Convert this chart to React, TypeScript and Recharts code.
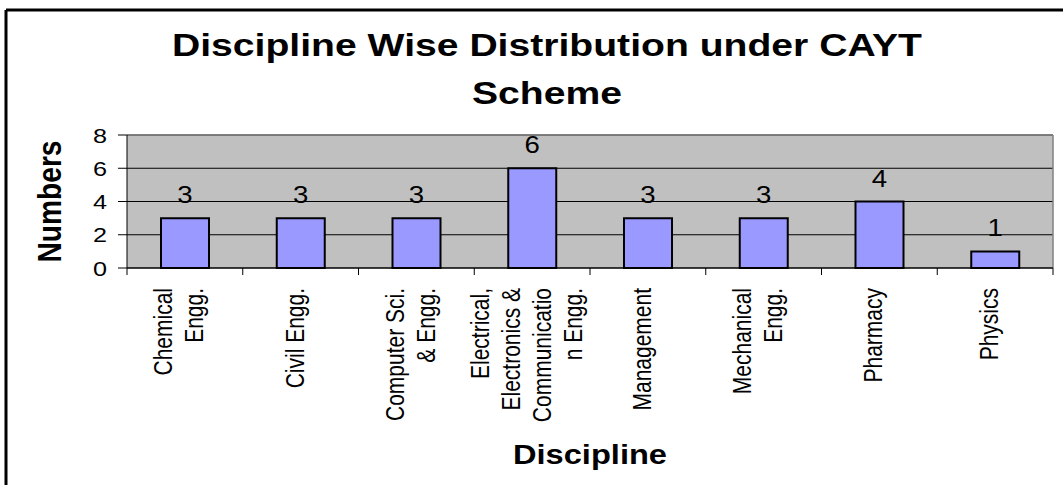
import { Bar, BarChart, CartesianGrid, LabelList, XAxis, YAxis } from 'recharts';

const categories = [
  'Chemical Engg.',
  'Civil Engg.',
  'Computer Sci. & Engg.',
  'Electrical, Electronics & Communication Engg.',
  'Management',
  'Mechanical Engg.',
  'Pharmacy',
  'Physics',
];
const counts = [3, 3, 3, 6, 3, 3, 4, 1];
const tickLabels = [
  ['Chemical', 'Engg.'],
  ['Civil Engg.'],
  ['Computer Sci.', '& Engg.'],
  ['Electrical,', 'Electronics &', 'Communicatio', 'n Engg.'],
  ['Management'],
  ['Mechanical', 'Engg.'],
  ['Pharmacy'],
  ['Physics'],
];
const yTicks = [0, 2, 4, 6, 8];

const data = categories.map((name, i) => ({ name, value: counts[i] }));

const W = 1063;
const H = 485;
const PLOT_LEFT = 127;
const PLOT_RIGHT = 1053;
const PLOT_TOP = 135;
const PLOT_BOTTOM = 268;
const BAND = (PLOT_RIGHT - PLOT_LEFT) / categories.length;
const FONT = '"Liberation Sans", Arial, sans-serif';
// the source picture is stretched sideways a little
const STRETCH = 1.2;

function CategoryTick(props: any) {
  const { x, index } = props;
  const lines = tickLabels[index] || [];
  const n = lines.length;
  return (
    <g>
      <line x1={x - BAND / 2} x2={x - BAND / 2} y1={PLOT_BOTTOM} y2={PLOT_BOTTOM + 7} stroke="#000" strokeWidth={1} />
      {index === categories.length - 1 && (
        <line x1={x + BAND / 2} x2={x + BAND / 2} y1={PLOT_BOTTOM} y2={PLOT_BOTTOM + 7} stroke="#000" strokeWidth={1} />
      )}
      {lines.map((line, i) => {
        const bx = x + 3 + (i - (n - 1) / 2) * 31;
        const by = PLOT_BOTTOM + 20;
        return (
          <text
            key={i}
            x={0}
            y={0}
            transform={`translate(${bx},${by}) scale(${STRETCH},1) rotate(-90)`}
            textAnchor="end"
            fontSize={21}
            fontFamily={FONT}
            fill="#000"
          >
            {line}
          </text>
        );
      })}
    </g>
  );
}

function ValueTick(props: any) {
  const { x, y, payload } = props;
  return (
    <text
      x={0}
      y={0}
      transform={`translate(${x},${y}) scale(${STRETCH},1)`}
      textAnchor="end"
      dy="0.36em"
      fontSize={21}
      fontFamily={FONT}
      fill="#000"
    >
      {payload.value}
    </text>
  );
}

function BarValue(props: any) {
  const { x, y, width, value } = props;
  return (
    <text
      x={0}
      y={0}
      transform={`translate(${x + width / 2},${y - 15}) scale(${STRETCH},1)`}
      textAnchor="middle"
      fontSize={23}
      fontFamily={FONT}
      fill="#000"
    >
      {value}
    </text>
  );
}

export default function App() {
  return (
    <div style={{ position: 'absolute', left: 0, top: 0, width: W, height: H, overflow: 'hidden', background: '#fff' }}>
      <BarChart
        width={W}
        height={H}
        data={data}
        margin={{ top: PLOT_TOP, right: W - PLOT_RIGHT, bottom: 67, left: PLOT_LEFT - 60 }}
      >
        <CartesianGrid fill="#c0c0c0" stroke="#000" vertical={false} />
        <CartesianGrid
          fill="none"
          stroke="#808080"
          strokeWidth={1.5}
          horizontalPoints={[PLOT_TOP]}
          verticalPoints={[PLOT_RIGHT]}
        />
        <XAxis
          dataKey="name"
          interval={0}
          height={150}
          tickLine={false}
          axisLine={{ stroke: '#000', strokeWidth: 1 }}
          tick={<CategoryTick />}
        />
        <YAxis
          width={60}
          domain={[0, 8]}
          ticks={yTicks}
          interval={0}
          tickSize={9}
          tickMargin={11}
          axisLine={{ stroke: '#000', strokeWidth: 1 }}
          tickLine={{ stroke: '#000' }}
          tick={<ValueTick />}
        />
        <Bar dataKey="value" fill="#9999ff" stroke="#000" strokeWidth={2} barSize={48} isAnimationActive={false}>
          <LabelList dataKey="value" content={<BarValue />} />
        </Bar>
      </BarChart>
      <svg width={W} height={H} style={{ position: 'absolute', left: 0, top: 0, pointerEvents: 'none' }}>
        <line x1={6} x2={W} y1={10} y2={10} stroke="#000" strokeWidth={3} />
        <line x1={6} x2={6} y1={10} y2={H} stroke="#000" strokeWidth={3} />
        <text x={547} y={56} textAnchor="middle" fontSize={32} fontWeight="bold" fontFamily={FONT} textLength={750} lengthAdjust="spacingAndGlyphs">
          Discipline Wise Distribution under CAYT
        </text>
        <text x={547} y={104} textAnchor="middle" fontSize={32} fontWeight="bold" fontFamily={FONT} textLength={150} lengthAdjust="spacingAndGlyphs">
          Scheme
        </text>
        <text
          x={0}
          y={0}
          transform={`translate(61,${(PLOT_TOP + PLOT_BOTTOM) / 2}) scale(${STRETCH},1) rotate(-90)`}
          textAnchor="middle"
          fontSize={27}
          fontWeight="bold"
          fontFamily={FONT}
          textLength={122}
          lengthAdjust="spacingAndGlyphs"
        >
          Numbers
        </text>
        <text x={(PLOT_LEFT + PLOT_RIGHT) / 2} y={464} textAnchor="middle" fontSize={28} fontWeight="bold" fontFamily={FONT} textLength={154} lengthAdjust="spacingAndGlyphs">
          Discipline
        </text>
      </svg>
    </div>
  );
}
